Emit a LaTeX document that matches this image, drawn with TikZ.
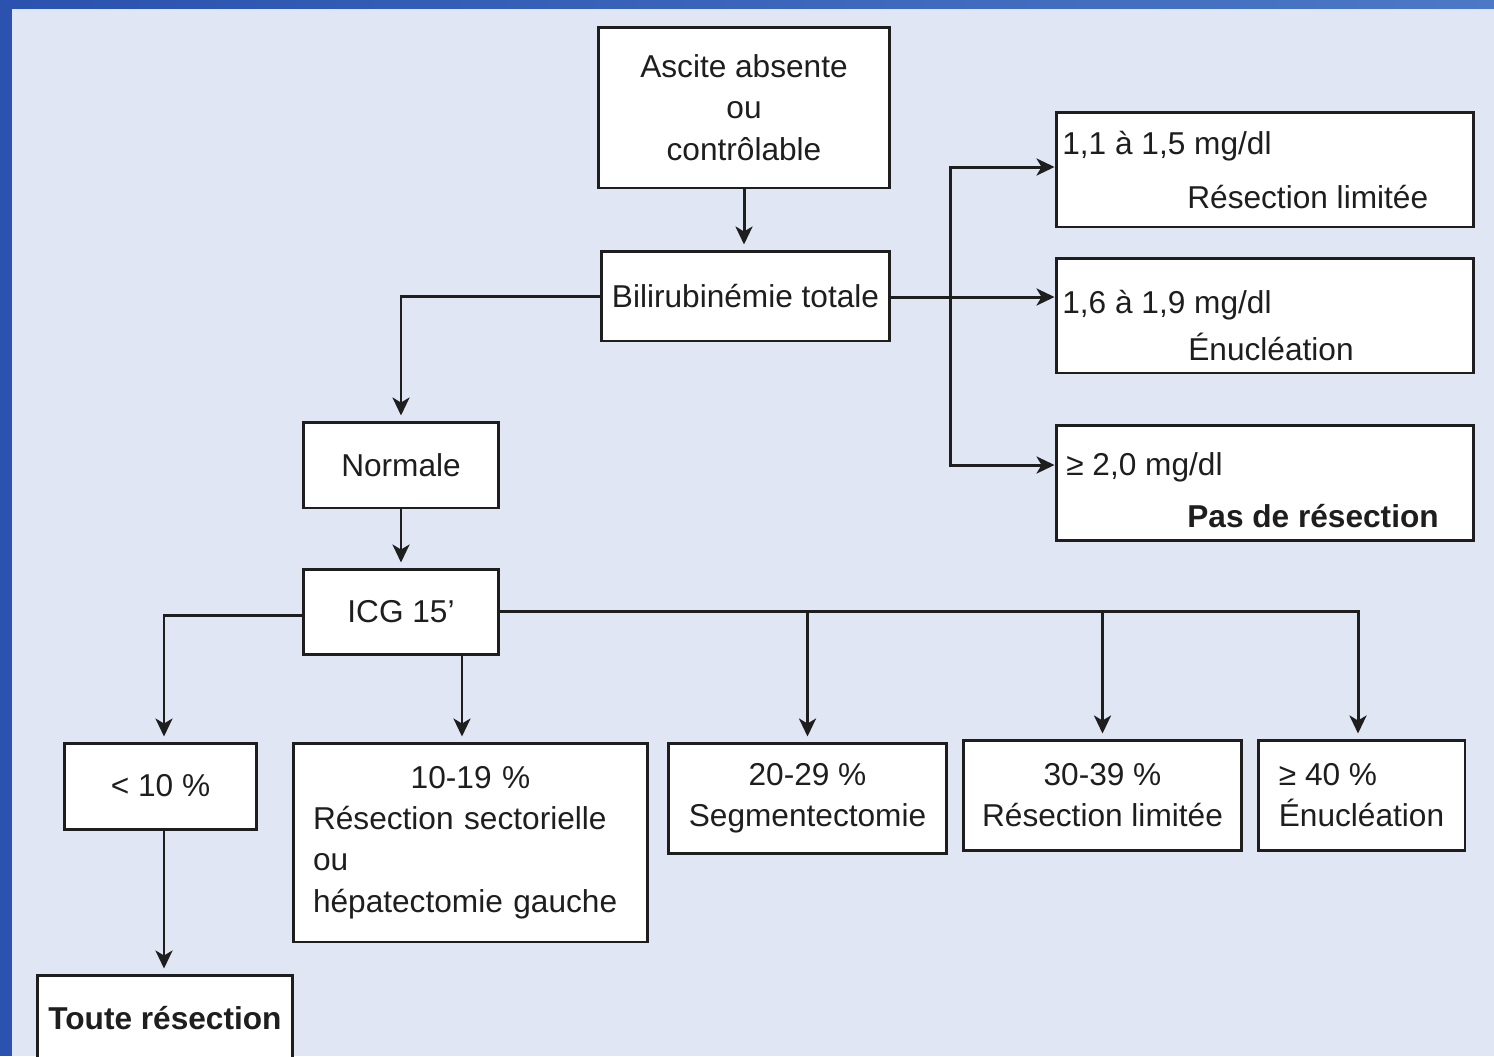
\documentclass[tikz,border=0pt]{standalone}
\usepackage{fontspec}
\setmainfont{Liberation Sans}
\usetikzlibrary{arrows.meta}
\definecolor{pagebg}{HTML}{E0E6F4}
\definecolor{stripblue}{HTML}{2A52AE}
\definecolor{stripblue2}{HTML}{4C78C6}
\definecolor{ink}{HTML}{1E1E1E}
\tikzset{
  box/.style={draw=ink, fill=white, line width=1.7pt, inner sep=0pt, align=center, text=ink},
  link/.style={draw=ink, line width=1.7pt, -{Stealth[length=0.36cm,width=0.34cm,inset=0.1cm]}, shorten >=0.1cm},
  txt/.style={inner sep=0pt, anchor=base west, text=ink},
}
\begin{document}
\begin{tikzpicture}[x=0.02cm, y=-0.02cm, font=\fontsize{18}{23.5}\selectfont]
  % page with the blue strips
  \useasboundingbox (0,0) rectangle (1494,1056);
  \clip (0,0) rectangle (1494,1056);
  \fill[pagebg] (0,0) rectangle (1494,1056);
  \fill[stripblue] (0,0) rectangle (12,1056);
  \shade[left color=stripblue, right color=stripblue2] (0,0) rectangle (1494,8);
  % top of the tree
  \node[box, minimum width=5.84cm, minimum height=3.22cm] (ascite) at (744,107.5) {Ascite absente\\ou\\contrôlable};
  \node[box, minimum width=5.78cm, minimum height=1.80cm] (bili) at (745.5,296) {Bilirubinémie totale};
  \node[box, minimum width=3.92cm, minimum height=1.72cm] (normale) at (401,465) {Normale};
  \node[box, minimum width=3.92cm, minimum height=1.70cm] (icg) at (401,611.5) {ICG 15'};
  % bilirubin ranges
  \node[box, minimum width=8.36cm, minimum height=2.30cm] (bil11) at (1265,169.5) {};
  \node[txt] (bil11val) at (1062,154) {1,1 à 1,5 mg/dl};
  \node[txt] (bil11act) at (1187,208) {Résection limitée};
  \node[box, minimum width=8.36cm, minimum height=2.30cm] (bil16) at (1265,315.5) {};
  \node[txt] (bil16val) at (1062,313) {1,6 à 1,9 mg/dl};
  \node[txt] (bil16act) at (1188,360) {Énucléation};
  \node[box, minimum width=8.36cm, minimum height=2.30cm] (bil20) at (1265,483) {};
  \node[txt] (bil20val) at (1066,475) {≥ 2,0 mg/dl};
  \node[txt, font=\fontsize{18}{23.5}\selectfont\bfseries] (bil20act) at (1187,527) {Pas de résection};
  % ICG classes
  \node[box, minimum width=3.86cm, minimum height=1.72cm] (icg10) at (160.5,786) {< 10 \%};
  \node[box, minimum width=7.10cm, minimum height=3.98cm, text width=6.3cm, align=left] (icg1019) at (470.5,842.5)
    {\makebox[\hsize]{10-19 \%}\\Résection sectorielle\\ou\\hépatectomie gauche};
  \node[box, minimum width=5.58cm, minimum height=2.20cm] (icg2029) at (807.5,798) {20-29 \%\\Segmentectomie};
  \node[box, minimum width=5.58cm, minimum height=2.20cm] (icg3039) at (1102.5,795) {30-39 \%\\Résection limitée};
  \node[box, minimum width=4.14cm, minimum height=2.20cm, align=left] (icg40) at (1361.5,795) {≥ 40 \%\\Énucléation};
  \node[box, minimum width=5.12cm, minimum height=1.72cm, font=\fontsize{18}{23.5}\selectfont\bfseries] (toute) at (165,1018) {Toute résection};
  % links
  \coordinate (split) at (950,297);
  \draw[link] (ascite.south) -- (ascite.south |- bili.north);
  \draw[link] (bili.west) -| (normale.north);
  \draw[link, shorten >=0pt] (bili.east |- split) -- (split -| bil16.west);
  \draw[link, shorten >=0pt] (split) |- ([yshift=0.05cm]bil11.west);
  \draw[link, shorten >=0pt] (split) |- ([yshift=0.36cm]bil20.west);
  \draw[link] (normale) -- (icg);
  \draw[link] ([yshift=-0.07cm]icg.west) -| ([xshift=0.07cm]icg10.north);
  \draw[link] ([xshift=1.22cm]icg.south) -- ([xshift=1.22cm]icg.south |- icg1019.north);
  \draw[link] (icg.east) -| (icg2029.north);
  \draw[link] (icg.east) -| (icg3039.north);
  \draw[link] (icg.east) -| ([xshift=-0.07cm]icg40.north);
  \draw[link] ([xshift=0.07cm]icg10.south) -- ([xshift=0.07cm]icg10.south |- toute.north);
\end{tikzpicture}
\end{document}
